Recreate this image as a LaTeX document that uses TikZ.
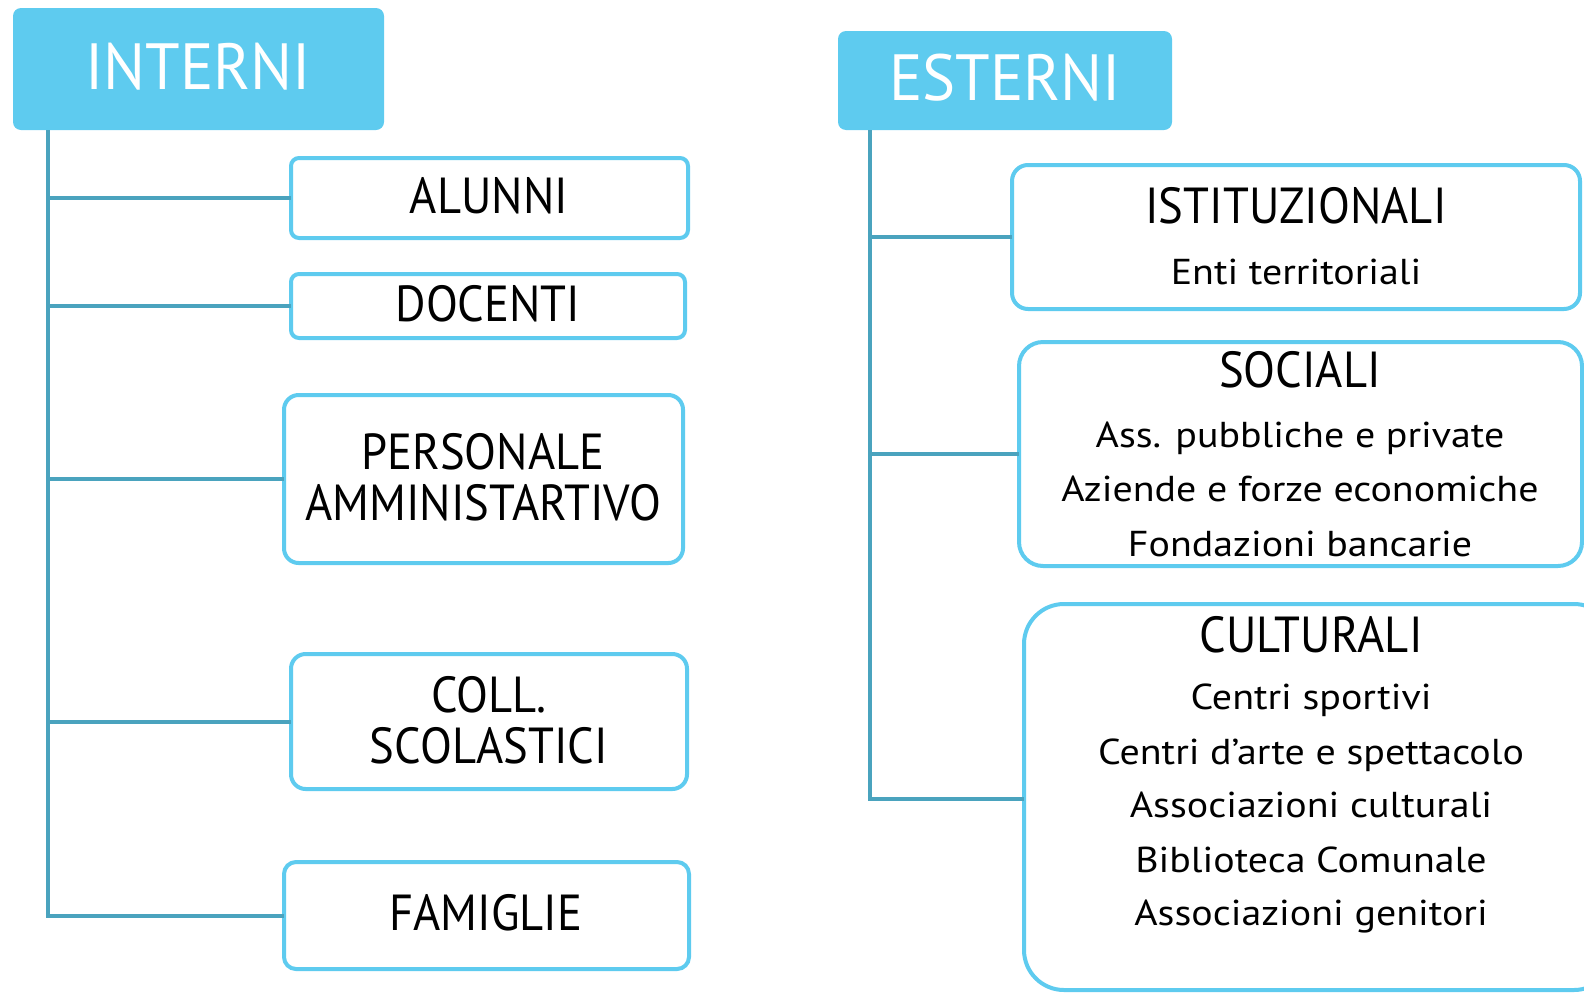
\documentclass[tikz,border=0pt]{standalone}
\usepackage{fontspec}
\setmainfont{PT Sans}
\newfontfamily\hdrfont[FakeStretch=0.955]{PT Sans}
\newfontfamily\ttlfont[FakeStretch=0.92]{PT Sans}
\newfontfamily\subfont[FakeStretch=1.11]{PT Sans}
\definecolor{hdrfill}{HTML}{5ECBEF}
\definecolor{boxline}{HTML}{5ECBEF}
\definecolor{connline}{HTML}{4AA3BE}
\tikzset{
  hdr/.style={fill=hdrfill, draw=none, rounded corners=6pt, inner sep=0pt, outer sep=0pt},
  itembox/.style={draw=boxline, line width=3pt, fill=white, rounded corners=#1, inner sep=0pt, outer sep=0pt},
  itembox/.default=6pt,
  conn/.style={draw=connline, line width=3pt},
  hdrtxt/.style={anchor=base, text=white, font=\hdrfont\fontsize{49}{58}\selectfont, inner sep=0pt},
  ttl/.style={anchor=base, font=\ttlfont\fontsize{38}{45}\selectfont, inner sep=0pt},
  sub/.style={anchor=base, font=\subfont\fontsize{27}{32}\selectfont, inner sep=0pt},
}
\begin{document}
\begin{tikzpicture}[x=0.75pt,y=-0.75pt]
\useasboundingbox (0,0) rectangle (1584,993);
\begin{scope}
\clip (0,0) rectangle (1584,993);
% headers
\node[hdr, minimum width=371*0.75pt, minimum height=122*0.75pt] (interni) at (198.5,69) {};
\node[hdrtxt] (internitxt) at (198,89) {INTERNI};
\node[hdr, minimum width=334*0.75pt, minimum height=99*0.75pt] (esterni) at (1005,80.5) {};
\node[hdrtxt] (esternitxt) at (1005,100) {ESTERNI};
% left boxes
\node[itembox, minimum width=397*0.75pt, minimum height=80*0.75pt] (alunni) at (489.5,198) {};
\node[ttl] (alunnitxt) at (489,213) {ALUNNI};
\node[itembox, minimum width=394*0.75pt, minimum height=64*0.75pt] (docenti) at (488,306) {};
\node[ttl] (docentitxt) at (488,321) {DOCENTI};
\node[itembox=11pt, minimum width=399*0.75pt, minimum height=168*0.75pt] (personale) at (483.5,479) {};
\node[ttl] (personaletxt1) at (483,469) {PERSONALE};
\node[ttl] (personaletxt2) at (483,520) {AMMINISTARTIVO};
\node[itembox=11pt, minimum width=396*0.75pt, minimum height=135*0.75pt] (coll) at (489,721.5) {};
\node[ttl] (colltxt1) at (489,712) {COLL.};
\node[ttl] (colltxt2) at (489,763) {SCOLASTICI};
\node[itembox=9pt, minimum width=405*0.75pt, minimum height=107*0.75pt] (famiglie) at (486.5,915.5) {};
\node[ttl] (famigliotxt) at (486,930) {FAMIGLIE};
% right boxes
\node[itembox=12pt, minimum width=568*0.75pt, minimum height=144*0.75pt] (istituz) at (1296,237) {};
\node[ttl] (istituztxt) at (1296,223) {ISTITUZIONALI};
\node[sub] (istituzsub) at (1296,284) {Enti territoriali};
\node[itembox=18pt, minimum width=563*0.75pt, minimum height=224*0.75pt] (sociali) at (1300.5,454) {};
\node[ttl] (socialitxt) at (1300,387) {SOCIALI};
\node[sub] (sociali1) at (1300,447) {Ass. pubbliche e private};
\node[sub] (sociali2) at (1300,501.5) {Aziende e forze economiche};
\node[sub] (sociali3) at (1300,556) {Fondazioni bancarie};
\node[itembox=30pt, minimum width=590*0.75pt, minimum height=386*0.75pt] (culturali) at (1319,797) {};
\node[ttl] (culturalitxt) at (1311,652) {CULTURALI};
\node[sub] (cult1) at (1311,709.5) {Centri sportivi};
\node[sub] (cult2) at (1311,764.5) {Centri d’arte e spettacolo};
\node[sub] (cult3) at (1311,817.5) {Associazioni culturali};
\node[sub] (cult4) at (1311,872.5) {Biblioteca Comunale};
\node[sub] (cult5) at (1311,925.5) {Associazioni genitori};
% connectors
\coordinate (ti) at (48,130);
\draw[conn] (ti) |- (famiglie.west);
\draw[conn] (ti |- alunni.west) -- (alunni.west);
\draw[conn] (ti |- docenti.west) -- (docenti.west);
\draw[conn] (ti |- personale.west) -- (personale.west);
\draw[conn] (ti |- coll.west) -- (coll.west);
\coordinate (te) at (870,130);
\draw[conn] (te) |- (1022,799) coordinate (cw) -- (cw -| culturali.west);
\draw[conn] (te |- istituz.west) -- (istituz.west);
\draw[conn] (te |- sociali.west) -- (sociali.west);
\end{scope}
\end{tikzpicture}
\end{document}
